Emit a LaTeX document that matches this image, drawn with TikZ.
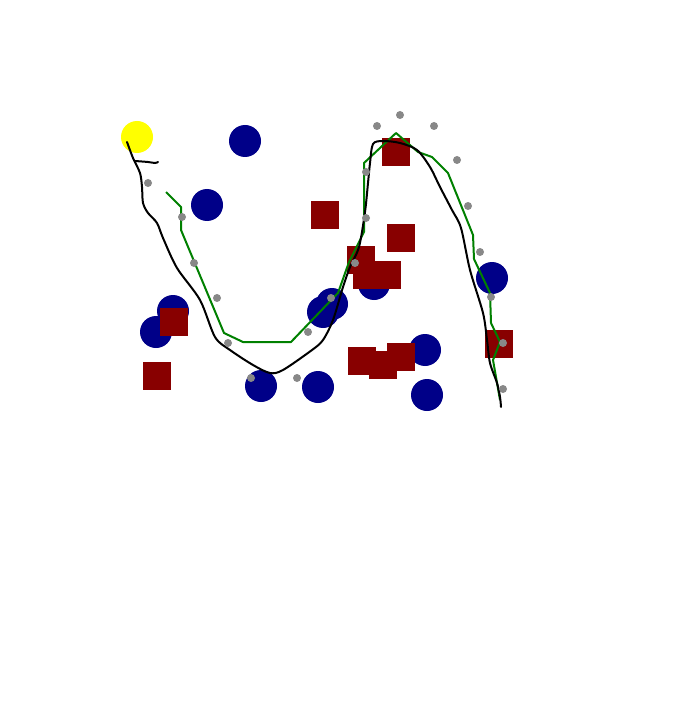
\documentclass[tikz,border=0pt]{standalone}
\usepackage{xcolor}
\usepackage{tikz}

\begin{document}
\begin{tikzpicture}[x=0.75pt, y=-0.75pt,
    every node/.style={inner sep=0pt, outer sep=0pt},
    obst/.style={circle, fill=azulOscuro, minimum size=24pt},
    caja/.style={rectangle, fill=rojoOscuro, minimum size=20.5pt},
    muestra/.style={circle, fill=grisMedio, minimum size=6pt},
    meta/.style={circle, fill=amarilloVivo, minimum size=24pt}]
  \definecolor{azulOscuro}{RGB}{0,0,136}
  \definecolor{rojoOscuro}{RGB}{136,0,0}
  \definecolor{grisMedio}{RGB}{136,136,136}
  \definecolor{verdeRuta}{RGB}{0,128,0}
  \definecolor{amarilloVivo}{RGB}{255,255,0}

  \useasboundingbox (0,0) rectangle (679,702);

  \node[meta] (inicio) at (137,137) {};

  \foreach \x/\y [count=\i] in {245/141, 207/205, 173/311, 156/332, 261/386,
      318/387, 332/304, 323/312, 374/284, 492/278, 425/350, 427/395}
    \node[obst] (c\i) at (\x,\y) {};

  \foreach \x/\y [count=\i] in {396/152, 325/215, 401/238, 361/260, 367/275,
      387/275, 174/322, 157/376, 362/361, 383/365, 401/357, 499/344}
    \node[caja] (b\i) at (\x,\y) {};

  \draw[verdeRuta, line width=1.5pt, line join=round]
    (166,192) -- (181,207) -- (181,230) -- (224,333) -- (243,342) -- (291,342)
    -- (338,293) -- (349,262) -- (364,232) -- (364,163) -- (396,133) -- (418,152)
    -- (432,157) -- (448,173) -- (473,235) -- (474,259) -- (490,293) -- (491,323)
    -- (500,342) -- (493,360) -- (500,400);

  \draw[black, line width=1.5pt, line cap=round]
    plot[smooth, tension=0.5] coordinates {(127,142) (133,158) (140,173) (142,187)
      (143,203) (148,213) (157,223) (163,238) (177,268) (200,300) (215,337)
      (230,350) (253,365) (270,373) (283,370) (312,350) (323,340) (333,320)
      (343,287) (350,267) (359,247) (365,212) (368,183) (370,163) (373,144)
      (383,141) (400,143) (417,150) (430,167) (440,187) (452,210) (461,228)
      (470,270) (483,313) (487,340) (490,363) (497,383) (500,397) (501,407)};
  \draw[black, line width=1.5pt, line cap=round]
    plot[smooth, tension=0.5] coordinates {(135,161) (148,162) (155,163) (158,162)};

  \foreach \x/\y [count=\i] in {148/183, 182/217, 194/263, 217/298, 228/343,
      251/378, 297/378, 308/332, 331/298, 355/263, 366/218, 366/172, 377/126,
      400/115, 434/126, 457/160, 468/206, 480/252, 491/297, 503/343, 503/389}
    \node[muestra] (m\i) at (\x,\y) {};
\end{tikzpicture}
\end{document}
